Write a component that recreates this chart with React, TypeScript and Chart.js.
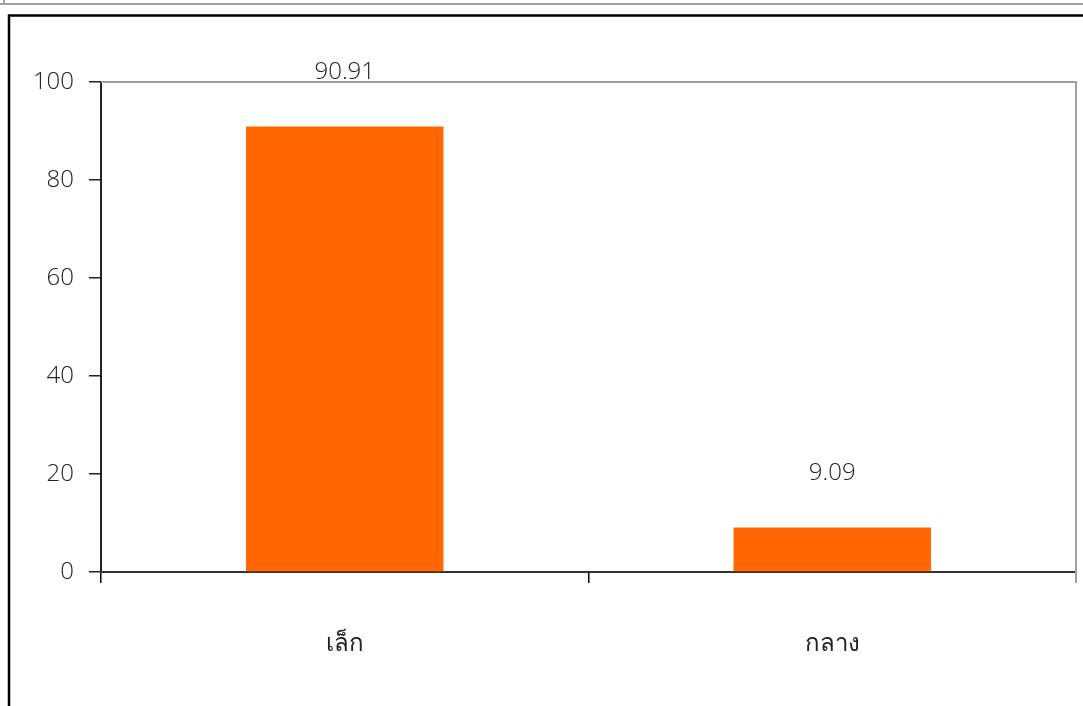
import React, { useEffect, useRef } from "react";
import { Chart, registerables } from "chart.js";

Chart.register(...registerables);

const categories = ["เล็ก", "กลาง"];
const values = [90.91, 9.09];
const valueLabels = ["90.91", "9.09"];
const yTicks = [0, 20, 40, 60, 80, 100];

const FONT = "'Open Sans', 'Noto Sans', 'DejaVu Sans', sans-serif";
const WEIGHT = 300;
const SIZE = 24;

const framePlugin = {
  id: "frame",
  beforeDraw(chart: any) {
    const { ctx } = chart;
    ctx.save();
    ctx.fillStyle = "#ffffff";
    ctx.fillRect(0, 0, chart.width, chart.height);
    ctx.strokeStyle = "#a0a0a0";
    ctx.lineWidth = 2;
    ctx.beginPath();
    ctx.moveTo(0, 4);
    ctx.lineTo(chart.width, 4);
    ctx.stroke();
    ctx.beginPath();
    ctx.moveTo(4, 0);
    ctx.lineTo(4, 5);
    ctx.stroke();
    ctx.strokeStyle = "#000000";
    ctx.lineWidth = 2.5;
    ctx.beginPath();
    ctx.moveTo(9, chart.height + 5);
    ctx.lineTo(9, 15.5);
    ctx.lineTo(chart.width + 5, 15.5);
    ctx.stroke();
    ctx.restore();
  },
  afterDatasetsDraw(chart: any) {
    const { ctx, chartArea } = chart;
    ctx.save();
    ctx.strokeStyle = "#a0a0a0";
    ctx.lineWidth = 2;
    ctx.beginPath();
    ctx.moveTo(chartArea.left, chartArea.top);
    ctx.lineTo(chartArea.right, chartArea.top);
    ctx.lineTo(chartArea.right, chartArea.bottom + 11);
    ctx.stroke();
    const meta = chart.getDatasetMeta(0);
    ctx.fillStyle = "#222222";
    ctx.font = `${WEIGHT} ${SIZE}px ${FONT}`;
    ctx.textAlign = "center";
    ctx.textBaseline = "middle";
    meta.data.forEach((bar: any, i: number) => {
      ctx.fillText(valueLabels[i], bar.x, bar.y - 54);
    });
    ctx.restore();
  },
};

export default function App() {
  const ref = useRef<HTMLCanvasElement>(null);
  useEffect(() => {
    document.body.style.margin = "0";
    const chart = new Chart(ref.current!, {
      type: "bar",
      data: {
        labels: categories,
        datasets: [
          {
            data: values,
            backgroundColor: "#FF6600",
            borderWidth: 0,
            categoryPercentage: 0.81,
            barPercentage: 0.5,
          },
        ],
      },
      options: {
        animation: false,
        responsive: false,
        maintainAspectRatio: false,
        layout: { padding: { left: 0, top: 82, right: 7, bottom: 0 } },
        plugins: { legend: { display: false }, tooltip: { enabled: false } },
        scales: {
          y: {
            min: 0,
            max: 100,
            afterBuildTicks: (scale: any) => {
              scale.ticks = yTicks.map((v) => ({ value: v }));
            },
            afterFit: (scale: any) => {
              scale.width = 101;
            },
            border: { display: true, color: "#222222", width: 2 },
            grid: {
              drawOnChartArea: false,
              drawTicks: true,
              tickLength: 12,
              color: "#222222",
              lineWidth: 1.5,
            },
            ticks: {
              color: "#222222",
              padding: 15,
              font: { family: FONT, size: SIZE, weight: WEIGHT },
            },
          },
          x: {
            afterFit: (scale: any) => {
              scale.height = 706 - 572;
            },
            border: { display: true, color: "#333333", width: 2 },
            grid: {
              drawOnChartArea: false,
              drawTicks: true,
              tickLength: 11,
              color: "#000000",
              lineWidth: 1.5,
              offset: true,
            },
            ticks: {
              color: "#222222",
              padding: 47,
              font: { family: FONT, size: SIZE, weight: WEIGHT },
            },
          },
        },
      },
      plugins: [framePlugin],
    });
    return () => chart.destroy();
  }, []);
  return (
    <div style={{ position: "absolute", left: 0, top: 0, width: 1083, height: 706 }}>
      <canvas ref={ref} width={1083} height={706} style={{ display: "block" }} />
    </div>
  );
}
